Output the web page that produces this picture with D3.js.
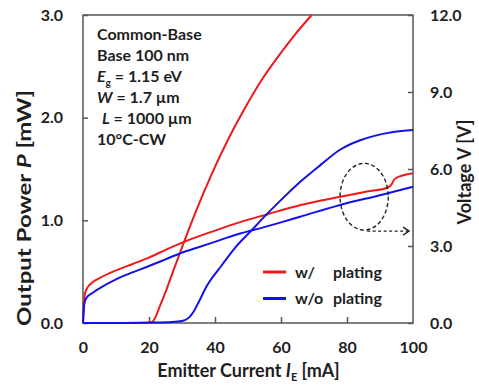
<!DOCTYPE html>
<html>
<head>
<meta charset="utf-8">
<script src="https://cdn.jsdelivr.net/npm/d3@7/dist/d3.min.js"></script>
<style>
  html, body { margin: 0; padding: 0; background: #fff; }
  svg { display: block; }
  text { font-family: Lato, "Open Sans", sans-serif; font-weight: 700; fill: #1e1e1e; }
</style>
</head>
<body>
<svg id="chart" width="479" height="386"></svg>
<script>
// Emitter current [mA] and output power [mW], with plating
const currentPowerWith = [0, 10, 20, 21, 22, 23, 25, 27.5, 30.4, 34, 39, 44, 49, 54, 59, 64, 69.3];
const powerWith        = [0, 0, 0, 0.01, 0.06, 0.14, 0.30, 0.52, 0.77, 1.07, 1.45, 1.79, 2.09, 2.36, 2.59, 2.80, 3.0];

// Output power without plating
const currentPowerWithout = [0, 10, 20, 27, 30, 32, 33.5, 35, 37.5, 42, 46, 51, 56, 62, 66, 72, 78, 84, 88, 94, 100];
const powerWithout        = [0, 0, 0.004, 0.01, 0.02, 0.05, 0.11, 0.20, 0.36, 0.56, 0.73, 0.90, 1.07, 1.26, 1.38, 1.54, 1.69, 1.78, 1.82, 1.86, 1.88];

// Voltage [V] with plating
const currentVoltageWith = [0, 0.4, 1, 3, 5, 10, 15, 20, 25, 31, 40, 47.6, 56, 66, 78, 86, 92.5, 93.5, 94.5, 100];
const voltageWith        = [0, 1.0, 1.3, 1.6, 1.75, 2.05, 2.3, 2.55, 2.85, 3.18, 3.6, 3.93, 4.24, 4.6, 4.92, 5.12, 5.28, 5.4, 5.62, 5.83];

// Voltage without plating
const currentVoltageWithout = [0, 0.4, 1, 3, 5, 10, 15, 20, 25, 29.4, 35, 41.5, 47.6, 51.6, 60, 65.8, 77.9, 90, 100];
const voltageWithout        = [0, 0.75, 0.97, 1.18, 1.35, 1.7, 1.97, 2.22, 2.48, 2.71, 2.95, 3.23, 3.49, 3.62, 3.92, 4.14, 4.6, 4.98, 5.31];

// Axis ticks
const currentTicks = [0, 20, 40, 60, 80, 100];
const powerTicks = [0, 1, 2, 3];
const voltageTicks = [0, 3, 6, 9, 12];

// Legend entries
const legendLabels = [["w/", "plating"], ["w/o", "plating"]];
const seriesColors = ["#f01818", "#1212e8"];

const svg = d3.select("#chart");
const plot = { left: 83, right: 413, top: 15, bottom: 323 };

const x = d3.scaleLinear().domain([0, 100]).range([plot.left, plot.right]);
const yP = d3.scaleLinear().domain([0, 3]).range([plot.bottom, plot.top]);
const yV = d3.scaleLinear().domain([0, 12]).range([plot.bottom, plot.top]);

const axisColor = "#555";

// Axes with inward ticks
const gx = svg.append("g").attr("transform", `translate(0,${plot.bottom})`)
  .call(d3.axisBottom(x).tickValues(currentTicks).tickFormat(d3.format("d"))
    .tickSizeInner(-6).tickSizeOuter(0).tickPadding(19));
const gl = svg.append("g").attr("transform", `translate(${plot.left},0)`)
  .call(d3.axisLeft(yP).tickValues(powerTicks).tickFormat(d3.format(".1f"))
    .tickSizeInner(-5).tickSizeOuter(0).tickPadding(20));
const gr = svg.append("g").attr("transform", `translate(${plot.right},0)`)
  .call(d3.axisRight(yV).tickValues(voltageTicks).tickFormat(d3.format(".1f"))
    .tickSizeInner(-5).tickSizeOuter(0).tickPadding(17));

[gx, gl, gr].forEach(g => {
  g.select(".domain").remove();
  g.selectAll(".tick line").attr("stroke", axisColor).attr("stroke-width", 1.5);
  g.selectAll(".tick text").attr("font-size", 16).attr("font-family", "Lato, sans-serif")
    .attr("font-weight", 700).attr("fill", "#1e1e1e");
});
gx.selectAll(".tick")
  .filter(d => d === 0 || d === 100).select("line").remove();

// Plot frame
svg.append("rect")
  .attr("x", plot.left).attr("y", plot.top)
  .attr("width", plot.right - plot.left).attr("height", plot.bottom - plot.top)
  .attr("fill", "none").attr("stroke", axisColor).attr("stroke-width", 1.5);

// Curves
const lineP = d3.line().x(d => x(d[0])).y(d => yP(d[1])).curve(d3.curveMonotoneX);
const lineV = d3.line().x(d => x(d[0])).y(d => yV(d[1])).curve(d3.curveMonotoneX);

const series = [
  { gen: lineV, xs: currentVoltageWith, ys: voltageWith, color: seriesColors[0] },
  { gen: lineP, xs: currentPowerWith, ys: powerWith, color: seriesColors[0] },
  { gen: lineV, xs: currentVoltageWithout, ys: voltageWithout, color: seriesColors[1] },
  { gen: lineP, xs: currentPowerWithout, ys: powerWithout, color: seriesColors[1] }
];
series.forEach(s => {
  svg.append("path")
    .datum(d3.zip(s.xs, s.ys))
    .attr("d", s.gen)
    .attr("fill", "none")
    .attr("stroke", s.color)
    .attr("stroke-width", 2)
    .attr("stroke-linejoin", "round");
});

// Dashed ellipse marking the voltage curves, with an arrow to the right axis
const ellipseCenter = [85.2, 4.92];
const ellipseRadius = [7.3, 1.3];
const cx = x(ellipseCenter[0]), cy = yV(ellipseCenter[1]);
const rx = x(ellipseCenter[0] + ellipseRadius[0]) - cx;
const ry = cy - yV(ellipseCenter[1] + ellipseRadius[1]);
svg.append("ellipse")
  .attr("cx", cx).attr("cy", cy).attr("rx", rx).attr("ry", ry)
  .attr("fill", "none").attr("stroke", "#222").attr("stroke-width", 1.4)
  .attr("stroke-dasharray", "4,2.5");
const arrowY = cy + ry + 1;
const arrowX0 = cx + 3, arrowX1 = x(98.8);
svg.append("line")
  .attr("x1", arrowX0).attr("x2", arrowX1 - 1).attr("y1", arrowY).attr("y2", arrowY)
  .attr("stroke", "#222").attr("stroke-width", 1.4).attr("stroke-dasharray", "3,2.5");
svg.append("path")
  .attr("d", `M${arrowX1 - 6},${arrowY - 4}L${arrowX1},${arrowY}L${arrowX1 - 6},${arrowY + 4}`)
  .attr("fill", "none").attr("stroke", "#222").attr("stroke-width", 1.4);

// Device description
const notes = svg.append("g").attr("font-size", 16);
const noteX = 97;
notes.append("text").attr("x", noteX).attr("y", 40).text("Common-Base");
notes.append("text").attr("x", noteX).attr("y", 61).text("Base 100 nm");
const eg = notes.append("text").attr("x", noteX).attr("y", 82);
eg.append("tspan").attr("font-style", "italic").text("E");
eg.append("tspan").attr("font-size", 10).attr("dy", 4).text("g");
eg.append("tspan").attr("dy", -4).text(" = 1.15 eV");
const w = notes.append("text").attr("x", noteX).attr("y", 103);
w.append("tspan").attr("font-style", "italic").text("W");
w.append("tspan").text(" = 1.7 µm");
const l = notes.append("text").attr("x", noteX + 5).attr("y", 124);
l.append("tspan").attr("font-style", "italic").text("L");
l.append("tspan").text("  = 1000 µm");
notes.append("text").attr("x", noteX).attr("y", 145).text("10°C-CW");

// Legend
const legend = svg.append("g").attr("font-size", 16);
legendLabels.forEach((lab, i) => {
  const ly = 272 + i * 26.5;
  legend.append("line").attr("x1", 263).attr("x2", 286).attr("y1", ly).attr("y2", ly)
    .attr("stroke", seriesColors[i]).attr("stroke-width", 3);
  legend.append("text").attr("x", 295).attr("y", ly + 5.5).text(lab[0]);
  legend.append("text").attr("x", 333).attr("y", ly + 5.5).text(lab[1]);
});

// Axis titles
const xt = svg.append("text").attr("x", 248.5).attr("y", 377).attr("text-anchor", "middle")
  .attr("font-size", 18);
xt.append("tspan").text("Emitter Current ");
xt.append("tspan").attr("font-style", "italic").text("I");
xt.append("tspan").attr("font-size", 11).attr("dy", 4).text("E");
xt.append("tspan").attr("dy", -4).text(" [mA]");

const lt = svg.append("text").attr("transform", "translate(31,208) rotate(-90)")
  .attr("text-anchor", "middle").attr("font-size", 18.5)
  .attr("textLength", 236).attr("lengthAdjust", "spacingAndGlyphs");
lt.append("tspan").text("Output Power ");
lt.append("tspan").attr("font-style", "italic").text("P");
lt.append("tspan").text(" [mW]");

svg.append("text").attr("transform", "translate(471,172) rotate(-90)")
  .attr("text-anchor", "middle").attr("font-size", 18).text("Voltage V [V]");
</script>
</body>
</html>
